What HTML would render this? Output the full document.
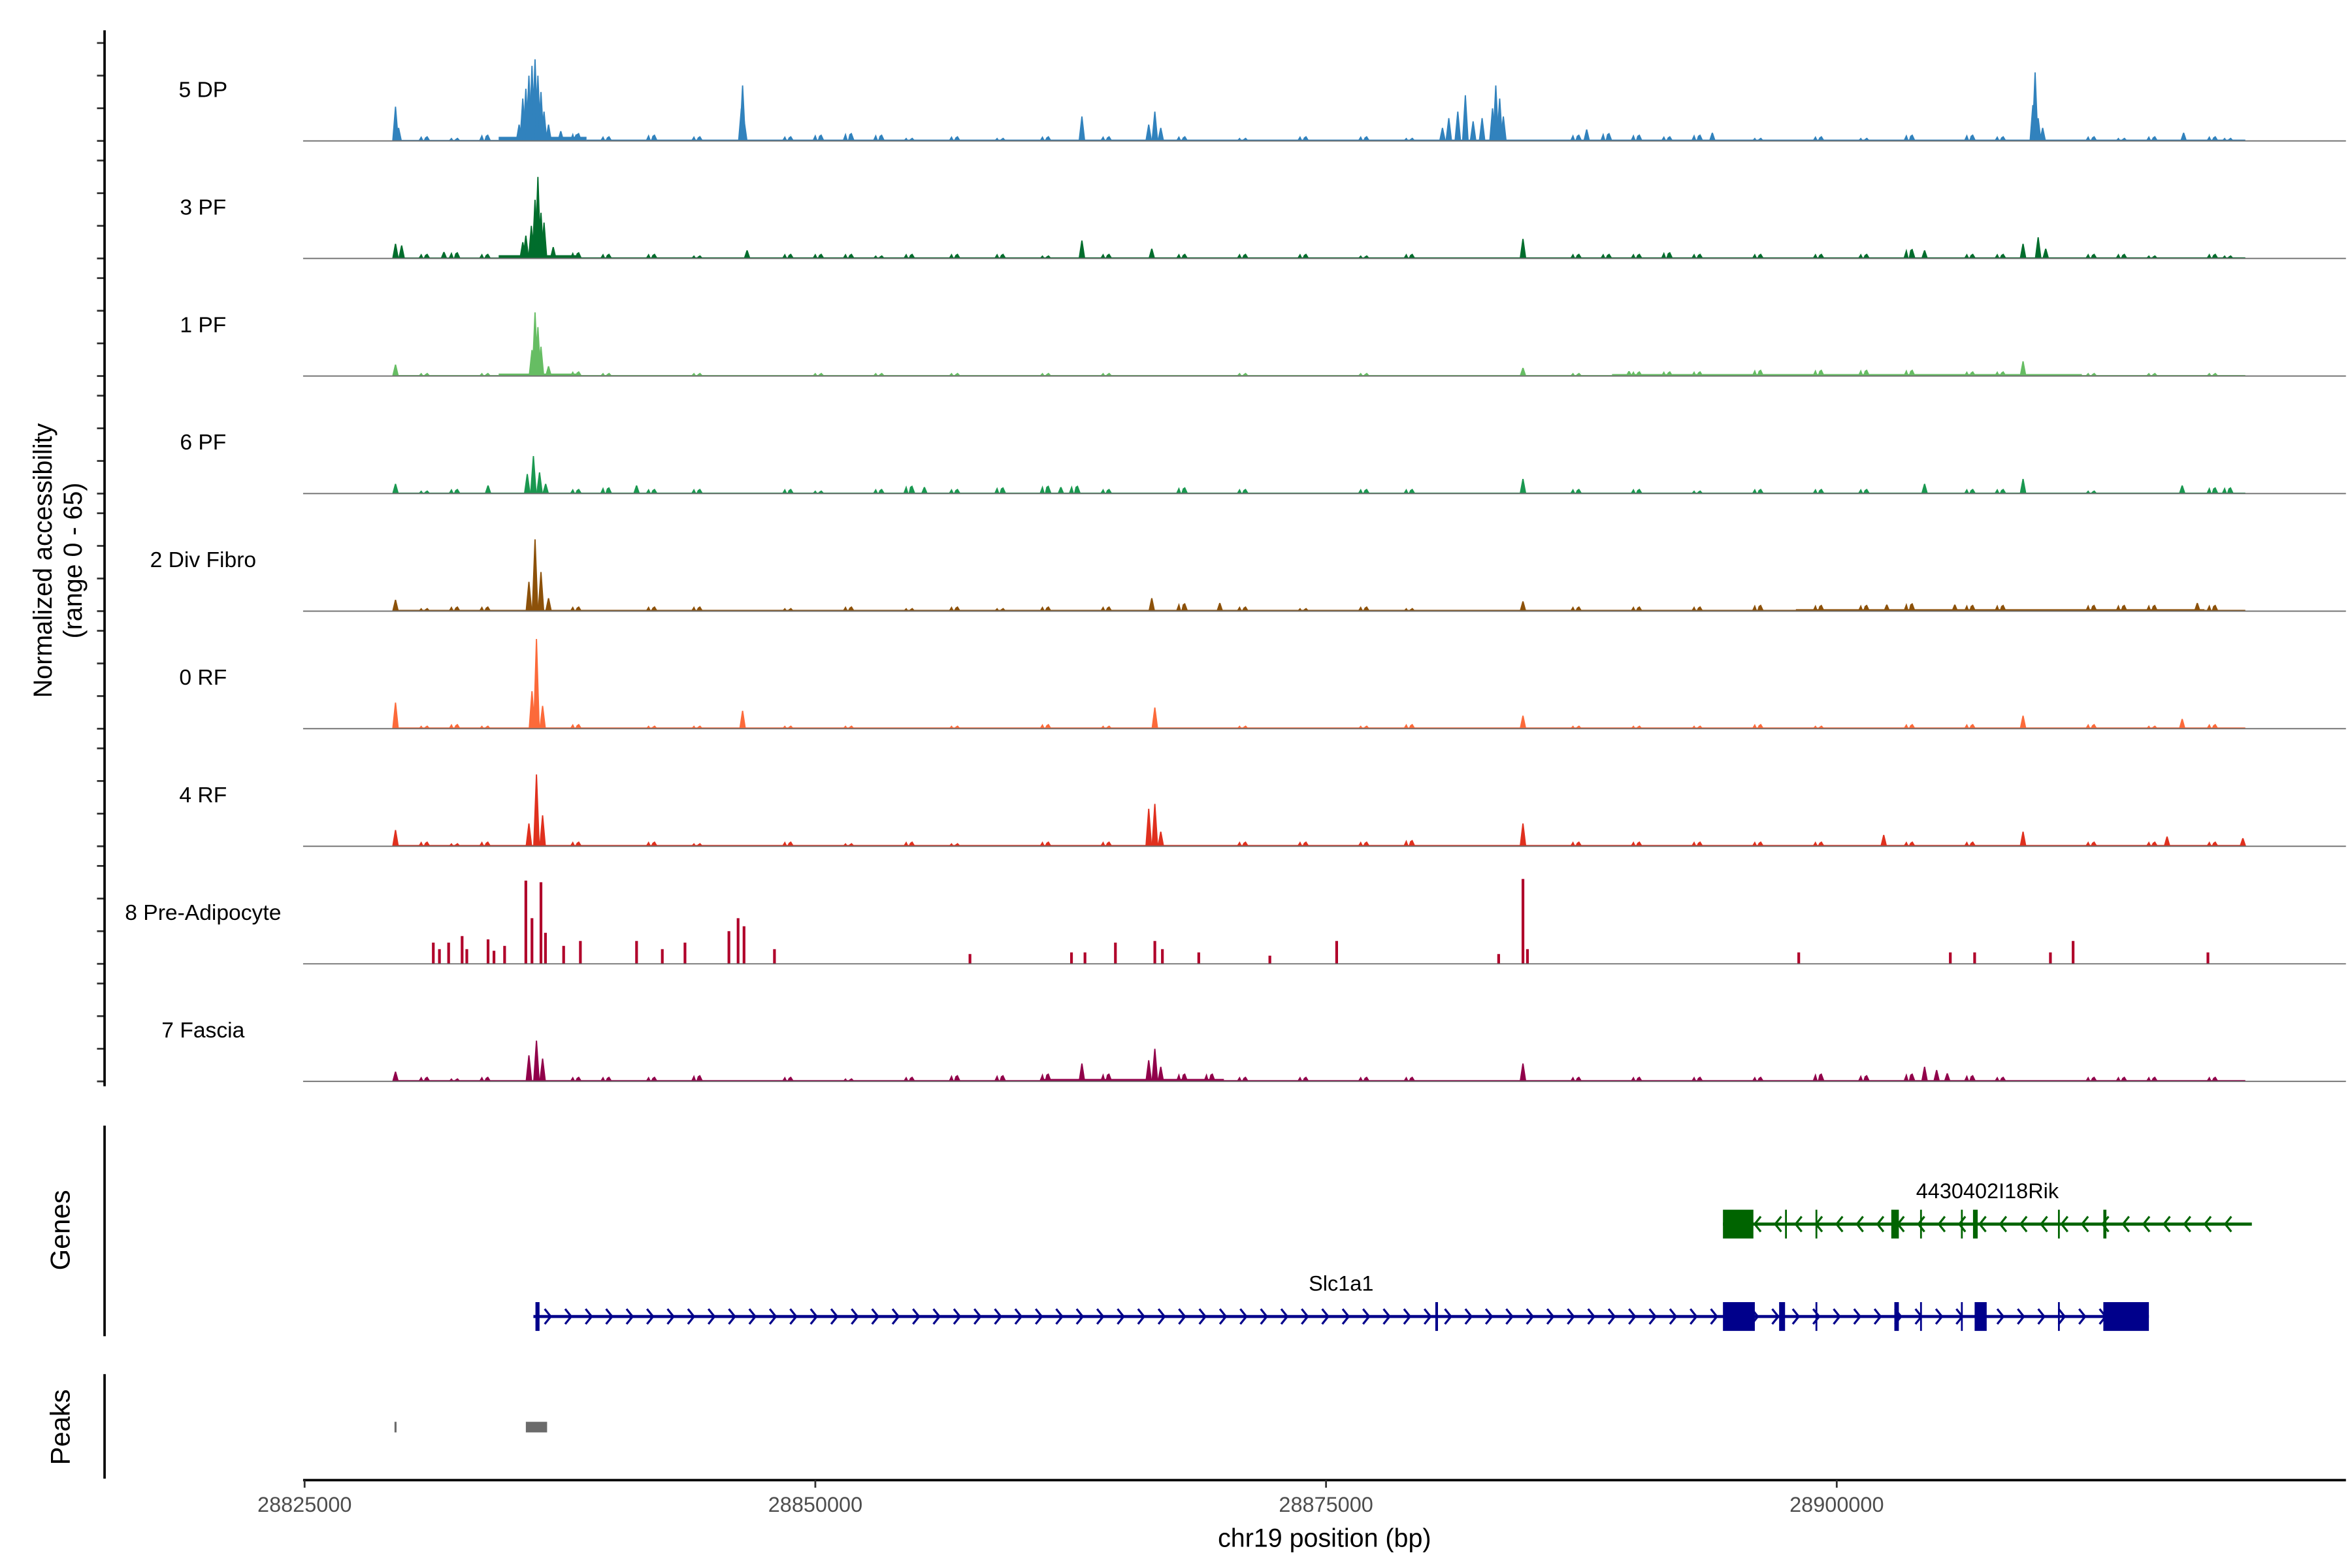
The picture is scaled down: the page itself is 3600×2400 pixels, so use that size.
<!DOCTYPE html>
<html><head><meta charset="utf-8"><title>Coverage plot chr19</title>
<style>
html,body{margin:0;padding:0;background:#fff;}
svg{display:block;font-family:"Liberation Sans",Arial,sans-serif;}
</style></head>
<body>
<svg id="chart" xmlns="http://www.w3.org/2000/svg" width="3600" height="2400" viewBox="0 0 1552 1035" preserveAspectRatio="none">
  <rect x="0" y="0" width="1552" height="1035" fill="#fff"/>
  <g id="tracks"></g>
  <g id="yaxis"></g>
  <text x="34" y="370" font-size="17" text-anchor="middle" transform="rotate(-90 34 370)">Normalized accessibility</text>
  <text x="54" y="370" font-size="17" text-anchor="middle" transform="rotate(-90 54 370)">(range 0 - 65)</text>
  <g id="genes"></g>
  <line x1="69" y1="743" x2="69" y2="882" stroke="#000" stroke-width="1.6"/>
  <text x="46" y="812" font-size="18" text-anchor="middle" transform="rotate(-90 46 812)">Genes</text>
  <g id="peaks"></g>
  <line x1="69" y1="907" x2="69" y2="976" stroke="#000" stroke-width="1.6"/>
  <text x="46" y="942" font-size="18" text-anchor="middle" transform="rotate(-90 46 942)">Peaks</text>
  <g id="xaxis"></g>
  <text x="874" y="1021" font-size="17" text-anchor="middle">chr19 position (bp)</text>
</svg>
<script>
// ---------- data ----------
const trackNames = ["5 DP","3 PF","1 PF","6 PF","2 Div Fibro","0 RF","4 RF","8 Pre-Adipocyte","7 Fascia"];
const trackColors = ["#3182bd","#006d2c","#66bd63","#1a9850","#8c510a","#fc6a3a","#e0301e","#b0002a","#91004a"];
const yTicks = [0,20,40,60];
const xTicks = [28825000,28850000,28875000,28900000];
const xTickLabels = ["28825000","28850000","28875000","28900000"];

// peaks per track: [position bp, height (normalized units)]
const peaks5DP = [[28829450,21],[28829600,8],[28835500,10],[28835680,26],[28835830,32],[28835980,40],[28836130,46],[28836280,50],[28836420,40],[28836570,30],[28836720,18],[28836940,10],[28837540,6],[28838300,4],[28846380,20],[28846440,34],[28846520,12],[28863050,15],[28866320,10],[28866620,18],[28866910,8],[28880700,8],[28881010,14],[28881450,18],[28881820,28],[28882200,12],[28882640,14],[28883150,20],[28883310,34],[28883500,26],[28883680,15],[28887760,7],[28893910,5],[28909600,22],[28909710,42],[28909860,14],[28910080,8],[28916980,5]];
const peaks3PF = [[28829450,9],[28829750,8],[28831820,4],[28835680,10],[28835830,14],[28836100,20],[28836280,36],[28836420,50],[28836570,28],[28836720,22],[28837170,7],[28846660,5],[28863050,11],[28866470,6],[28884640,12],[28904300,5],[28909120,9],[28909860,13],[28910230,6]];
const peaks1PF = [[28829450,7],[28836130,16],[28836280,39],[28836420,30],[28836570,18],[28836940,6],[28884640,5],[28889830,3],[28909120,9]];
const peaks6PF = [[28829450,6],[28833980,5],[28835900,12],[28836200,23],[28836500,13],[28836800,6],[28841250,5],[28855340,4],[28862020,4],[28884640,9],[28904300,6],[28909120,9],[28916910,5]];
const peaks2DF = [[28829450,7],[28835980,18],[28836280,44],[28836570,24],[28836940,8],[28866470,8],[28869800,5],[28884640,6],[28902450,4],[28905780,4],[28917650,5]];
const peaks0RF = [[28829450,16],[28836130,23],[28836350,55],[28836650,14],[28846440,11],[28866620,13],[28884640,8],[28909120,8],[28916910,6]];
const peaks4RF = [[28829450,10],[28835980,14],[28836350,44],[28836650,19],[28866320,23],[28866620,26],[28866910,9],[28884640,14],[28902300,7],[28909120,9],[28916170,6],[28919880,5]];
const peaks8PA = [[28831300,13],[28831600,9],[28832050,13],[28832710,17],[28832940,9],[28833980,15],[28834270,8],[28834790,11],[28835830,51],[28836130,28],[28836570,50],[28836790,19],[28837680,11],[28838500,14],[28841250,14],[28842510,9],[28843620,13],[28845770,20],[28846220,28],[28846510,23],[28848000,9],[28857570,6],[28862540,7],[28863200,7],[28864690,13],[28866620,14],[28866990,9],[28868770,7],[28872250,5],[28875520,14],[28883450,6],[28884640,52],[28884860,9],[28898140,7],[28905560,7],[28906750,7],[28910460,7],[28911570,14],[28918170,7]];
const peaks7FA = [[28829450,6],[28835980,16],[28836350,25],[28836650,14],[28863050,11],[28866320,13],[28866620,20],[28866910,9],[28884640,11],[28904300,9],[28904890,7],[28905410,5]];
const trackPeaks = [peaks5DP,peaks3PF,peaks1PF,peaks6PF,peaks2DF,peaks0RF,peaks4RF,peaks8PA,peaks7FA];

// small background spikes per track: [position bp, height]
const noise5DP = [[28830860,3],[28832340,2],[28833830,4],[28838280,5],[28839760,3],[28841990,4],[28844210,3],[28848660,3],[28850150,4],[28851630,5],[28853110,4],[28854600,2],[28856820,3],[28859050,2],[28861270,3],[28864240,3],[28867950,3],[28870920,2],[28873880,3],[28876850,3],[28879080,2],[28887240,4],[28888720,5],[28890200,4],[28891690,3],[28893170,4],[28896140,2],[28899110,3],[28901330,2],[28903560,4],[28906520,4],[28908010,3],[28912460,3],[28913940,2],[28915430,3],[28918390,3],[28919140,2]];
const noise3PF = [[28830860,3],[28832340,4],[28833830,3],[28838280,4],[28839760,3],[28841990,3],[28844210,2],[28848660,3],[28850150,3],[28851630,3],[28853110,2],[28854600,3],[28856820,3],[28859050,3],[28861270,2],[28864240,3],[28867950,3],[28870920,3],[28873880,3],[28876850,2],[28879080,3],[28887240,3],[28888720,3],[28890200,3],[28891690,4],[28893170,3],[28896140,3],[28899110,3],[28901330,3],[28903560,6],[28906520,3],[28908010,3],[28912460,3],[28913940,3],[28915430,2],[28918390,3],[28919140,2]];
const noise1PF = [[28830860,2],[28833830,2],[28838280,3],[28839760,2],[28844210,2],[28850150,2],[28853110,2],[28856820,2],[28861270,2],[28864240,2],[28870920,2],[28876850,2],[28887240,2],[28890200,3],[28891690,3],[28893170,3],[28896140,4],[28899110,4],[28901330,4],[28903560,4],[28906520,3],[28908010,3],[28912460,2],[28915430,2],[28918390,2]];
const noise6PF = [[28830860,2],[28832340,3],[28838280,3],[28839760,4],[28841990,3],[28844210,3],[28848660,3],[28850150,2],[28853110,3],[28854600,5],[28856820,3],[28859050,4],[28861270,5],[28862700,5],[28864240,3],[28867950,4],[28870920,3],[28876850,3],[28879080,3],[28887240,3],[28890200,3],[28893170,2],[28896140,3],[28899110,3],[28901330,3],[28906520,3],[28908010,3],[28912460,2],[28918390,4],[28919140,4]];
const noise2DF = [[28830860,2],[28832340,3],[28833830,3],[28838280,3],[28841990,3],[28844210,3],[28848660,2],[28851630,3],[28854600,2],[28856820,3],[28859050,2],[28861270,3],[28864240,3],[28867950,5],[28870920,3],[28873880,2],[28876850,3],[28879080,2],[28887240,3],[28890200,3],[28893170,3],[28896140,4],[28899110,4],[28901330,4],[28903560,5],[28906520,4],[28908010,4],[28912460,4],[28913940,4],[28915430,4],[28918390,4]];
const noise0RF = [[28830860,2],[28832340,3],[28833830,2],[28838280,3],[28841990,2],[28844210,2],[28848660,2],[28851630,2],[28856820,2],[28861270,3],[28864240,2],[28870920,2],[28876850,2],[28879080,3],[28887240,2],[28890200,2],[28893170,2],[28896140,3],[28899110,2],[28903560,3],[28906520,3],[28912460,3],[28915430,2],[28918390,3]];
const noise4RF = [[28830860,3],[28832340,2],[28833830,3],[28838280,3],[28841990,3],[28844210,2],[28848660,3],[28851630,2],[28854600,3],[28856820,2],[28861270,3],[28864240,3],[28870920,3],[28873880,3],[28876850,3],[28879080,4],[28887240,3],[28890200,3],[28893170,3],[28896140,3],[28899110,3],[28903560,3],[28906520,3],[28912460,3],[28915430,3],[28918390,3]];
const noise8PA = [];
const noise7FA = [[28830860,3],[28832340,2],[28833830,3],[28838280,3],[28839760,3],[28841990,3],[28844210,4],[28848660,3],[28851630,2],[28854600,3],[28856820,4],[28859050,4],[28861270,5],[28864240,5],[28867950,5],[28869300,5],[28870920,3],[28873880,3],[28876850,3],[28879080,3],[28887240,3],[28890200,3],[28893170,3],[28896140,3],[28899110,5],[28901330,4],[28903560,5],[28906520,4],[28908010,3],[28912460,3],[28913940,3],[28915430,3],[28918390,3]];
const trackNoise = [noise5DP,noise3PF,noise1PF,noise6PF,noise2DF,noise0RF,noise4RF,noise8PA,noise7FA];

// low background signal per track: [start bp, end bp, level]
const bg5DP = [[28829450,28834500,0.6],[28834500,28838800,2.5],[28838800,28920000,0.8]];
const bg3PF = [[28829450,28834500,0.6],[28834500,28838500,2],[28838500,28920000,0.7]];
const bg1PF = [[28829450,28834500,0.6],[28834500,28838500,1.5],[28838500,28920000,0.6],[28889000,28912000,1.2]];
const bg6PF = [[28829450,28920000,0.6]];
const bg2DF = [[28829450,28920000,0.8],[28898000,28918000,1.2]];
const bg0RF = [[28829450,28920000,0.8]];
const bg4RF = [[28829450,28920000,0.8]];
const bg8PA = [];
const bg7FA = [[28829450,28920000,0.8],[28861000,28870000,1.5]];
const trackBg = [bg5DP,bg3PF,bg1PF,bg6PF,bg2DF,bg0RF,bg4RF,bg8PA,bg7FA];

// genes
const geneNames = ["4430402I18Rik","Slc1a1"];
const geneStrands = [-1,1];
const geneStarts = [28894430,28836200];
const geneEnds = [28920320,28915280];
const geneExons = [
  [[28894430,28895920],[28897470,28897470],[28898960,28898960],[28902670,28903040],[28904080,28904080],[28906080,28906080],[28906670,28906900],[28910830,28910830],[28913050,28913200]],
  [[28836300,28836500],[28880350,28880480],[28894430,28895990],[28897180,28897470],[28898960,28898960],[28902820,28903040],[28904080,28904080],[28906080,28906080],[28906750,28907340],[28910830,28910830],[28913050,28915280]]
];
const geneColors = ["#006400","#00008b"];
const peakRegions = [[28829400,28829500],[28835830,28836870]];

// ---------- scales ----------
const X0 = 201, PX_PER_BP = 337/25000;
function xScale(bp){ return X0 + (bp-28825000)*PX_PER_BP; }
const trackTop = 93, trackStep = 77.6, unitPx = 1.077;
function baseY(i){ return trackTop + i*trackStep; }
function yScale(i,v){ return baseY(i) - v*unitPx; }

const NS = "http://www.w3.org/2000/svg";
function mk(tag, parent){ const e=document.createElementNS(NS,tag); parent.appendChild(e); return e; }

const gT = document.getElementById("tracks");
const gY = document.getElementById("yaxis");
trackNames.forEach((name,i)=>{
  const g = mk("g", gT);
  
  
  const col = trackColors[i];
  const b = baseY(i);
  trackBg[i].forEach(s=>{
    const r = mk("rect", g);
    
    
    r.setAttribute("x", xScale(s[0])); r.setAttribute("width", xScale(s[1])-xScale(s[0]));
    r.setAttribute("y", yScale(i,s[2])); r.setAttribute("height", b-yScale(i,s[2]));
    r.setAttribute("fill", col);
  });
  const isBar = (i===7);
  trackNoise[i].forEach(p=>{
    const x = xScale(p[0]), yt = yScale(i,p[1]);
    const el = mk("polygon", g);
    
    
    el.setAttribute("points", `${x-4},${b} ${x-2},${yt} ${x-0.5},${b} ${x+0.5},${yt+1} ${x+2},${yt} ${x+4},${b}`);
    el.setAttribute("fill", col);
  });
  trackPeaks[i].forEach(p=>{
    const x = xScale(p[0]), yt = yScale(i,p[1]);
    const el = mk("polygon", g);
    
    
    const w = isBar ? 0.9 : 2.2;
    const pts = isBar ? [[x-w,b],[x-w,yt],[x+w,yt],[x+w,b]] : [[x-w,b],[x-0.4,yt],[x+0.4,yt],[x+w,b]];
    el.setAttribute("points", pts.map(q=>q.join(",")).join(" "));
    el.setAttribute("fill", col);
  });
  const bl = mk("line", g);
  
  
  bl.setAttribute("x1", 200); bl.setAttribute("x2", 1548); bl.setAttribute("y1", b); bl.setAttribute("y2", b);
  bl.setAttribute("stroke", "#6e6e6e"); bl.setAttribute("stroke-width", "0.8");
  const t = mk("text", g);
  
  
  t.setAttribute("x", 134); t.setAttribute("y", b-29); t.setAttribute("font-size", "14.5");
  t.setAttribute("text-anchor", "middle"); t.textContent = name;
  yTicks.forEach(v=>{
    const tk = mk("line", gY);
    
    
    const yy = yScale(i,v);
    tk.setAttribute("x1", 64); tk.setAttribute("x2", 69); tk.setAttribute("y1", yy); tk.setAttribute("y2", yy);
    tk.setAttribute("stroke", "#333"); tk.setAttribute("stroke-width", "1.2");
  });
});
const ya = mk("line", gY);


ya.setAttribute("x1", 69); ya.setAttribute("x2", 69); ya.setAttribute("y1", 20); ya.setAttribute("y2", 717);
ya.setAttribute("stroke", "#000"); ya.setAttribute("stroke-width", "1.6");

// genes
const gG = document.getElementById("genes");
const geneY = [808, 869];
geneNames.forEach((gn,k)=>{
  const g = mk("g", gG);
  
  
  const col = geneColors[k], y = geneY[k];
  const x1 = xScale(geneStarts[k]), x2 = xScale(geneEnds[k]);
  const ln = mk("line", g);
  
  
  ln.setAttribute("x1", x1); ln.setAttribute("x2", x2); ln.setAttribute("y1", y); ln.setAttribute("y2", y);
  ln.setAttribute("stroke", col); ln.setAttribute("stroke-width", "2");
  const step = 13.5;
  let d = "";
  for(let x=x1+step*0.7; x<x2-3; x+=step){
    const s = geneStrands[k];
    d += `M${x-2*s},${y-5} L${x+2*s},${y} L${x-2*s},${y+5} `;
  }
  const ch = mk("path", g);
  
  
  ch.setAttribute("d", d); ch.setAttribute("fill", "none"); ch.setAttribute("stroke", col); ch.setAttribute("stroke-width", "1.4");
  geneExons[k].forEach(ex=>{
    const r = mk("rect", g);
    
    
    const a = xScale(ex[0]), w = Math.max(xScale(ex[1])-a, 1.2);
    r.setAttribute("x", a); r.setAttribute("width", w);
    r.setAttribute("y", y-9.5); r.setAttribute("height", 19); r.setAttribute("fill", col);
  });
  const lab = mk("text", g);
  
  
  lab.setAttribute("x", (x1+x2)/2); lab.setAttribute("y", y-17); lab.setAttribute("font-size", "14");
  lab.setAttribute("text-anchor", "middle"); lab.textContent = gn;
});

// peaks
const gP = document.getElementById("peaks");
peakRegions.forEach(pr=>{
  const r = mk("rect", gP);
  
  
  const a = xScale(pr[0]), w = Math.max(xScale(pr[1])-a, 1.2);
  r.setAttribute("x", a); r.setAttribute("width", w); r.setAttribute("y", 938.5); r.setAttribute("height", 7);
  r.setAttribute("fill", "#6b6b6b");
});

// x axis
const gX = document.getElementById("xaxis");
const xl = mk("line", gX);


xl.setAttribute("x1", 200); xl.setAttribute("x2", 1548); xl.setAttribute("y1", 977); xl.setAttribute("y2", 977);
xl.setAttribute("stroke", "#000"); xl.setAttribute("stroke-width", "1.6");
xTicks.forEach((v,j)=>{
  const x = xScale(v);
  const tk = mk("line", gX);
  
  
  tk.setAttribute("x1", x); tk.setAttribute("x2", x); tk.setAttribute("y1", 977); tk.setAttribute("y2", 982);
  tk.setAttribute("stroke", "#333"); tk.setAttribute("stroke-width", "1.2");
  const t = mk("text", gX);
  
  
  t.setAttribute("x", x); t.setAttribute("y", 998); t.setAttribute("font-size", "14");
  t.setAttribute("fill", "#4d4d4d"); t.setAttribute("text-anchor", "middle");
  t.textContent = xTickLabels[j];
});
</script>
</body></html>
